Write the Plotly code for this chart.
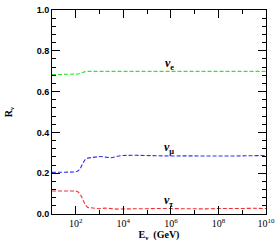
import plotly.graph_objects as go

logE = [1.0, 1.5, 2.0, 2.1, 2.2, 2.3, 2.4, 2.5, 2.75, 3.0, 3.25, 3.5, 3.75, 4.0, 4.5,
        5.0, 5.5, 6.0, 6.5, 7.0, 7.5, 8.0, 8.5, 9.0, 9.5, 10.0]
r_e = [0.683, 0.683, 0.684, 0.686, 0.690, 0.695, 0.698, 0.699, 0.699, 0.698, 0.699, 0.697, 0.698,
       0.699, 0.698, 0.699, 0.699, 0.698, 0.699, 0.699, 0.698, 0.699, 0.699, 0.699, 0.698, 0.699]
r_mu = [0.204, 0.204, 0.206, 0.212, 0.225, 0.250, 0.268, 0.274, 0.278, 0.282, 0.279, 0.276, 0.283,
        0.287, 0.288, 0.286, 0.285, 0.284, 0.285, 0.284, 0.284, 0.285, 0.284, 0.285, 0.286, 0.287]
r_tau = [0.113, 0.113, 0.113, 0.108, 0.095, 0.070, 0.045, 0.032, 0.028, 0.026, 0.029, 0.025, 0.024,
         0.025, 0.024, 0.026, 0.027, 0.026, 0.025, 0.026, 0.025, 0.027, 0.026, 0.027, 0.028, 0.027]
E = [10 ** v for v in logE]

x_tickvals = [1e2, 1e4, 1e6, 1e8, 1e10]
x_ticktext = ["10<sup>2</sup>", "10<sup>4</sup>", "10<sup>6</sup>", "10<sup>8</sup>", "10<sup>10</sup>"]

labels = ["<i>ν</i><sub>e</sub>", "<i>ν</i><sub>μ</sub>", "<i>ν</i><sub>τ</sub>"]
label_logE = [5.93, 5.93, 5.90]
label_y = [0.735, 0.325, 0.063]

fig = go.Figure()
for y, c in [(r_e, "#2ee82e"), (r_mu, "#3030f0"), (r_tau, "#f03030")]:
    fig.add_trace(go.Scatter(x=E, y=y, mode="lines",
                             line=dict(color=c, width=1.1, dash="4px,2px"),
                             showlegend=False))

for t, lx, ly in zip(labels, label_logE, label_y):
    fig.add_annotation(x=lx, y=ly, text=t, showarrow=False,
                       font=dict(family="Liberation Serif", size=12, color="black", weight="bold"))

fig.update_layout(
    width=280, height=242,
    margin=dict(l=52, r=10, t=5, b=28),
    paper_bgcolor="white", plot_bgcolor="white",
    xaxis=dict(type="log", range=[0.9999, 10.0001], tickvals=x_tickvals, ticktext=x_ticktext,
               showline=True, linecolor="black", linewidth=1, mirror="allticks",
               ticks="inside", ticklen=8, tickcolor="black", tickwidth=1,
               minor=dict(ticks="inside", ticklen=4, dtick=1, tickcolor="black"),
               showgrid=False, zeroline=False,
               tickfont=dict(family="Liberation Serif", size=10, color="black"),
               title=dict(text="E<sub>ν</sub>  (GeV)", standoff=1,
                          font=dict(family="Liberation Serif", size=10, color="black", weight="bold"))),
    yaxis=dict(range=[0, 1], dtick=0.2, tickformat=".1f",
               showline=True, linecolor="black", linewidth=1, mirror="allticks",
               ticks="inside", ticklen=8, tickcolor="black", tickwidth=1,
               minor=dict(ticks="inside", ticklen=4, dtick=0.04, tickcolor="black"),
               showgrid=False, zeroline=False,
               tickfont=dict(family="Liberation Sans", size=9, color="black", weight="bold"),
               title=dict(text="R<sub>ν</sub>", standoff=22,
                          font=dict(family="Liberation Serif", size=10, color="black", weight="bold"))),
)

fig.write_html("out.html", config={"displayModeBar": False},
               post_script="document.body.style.margin='0';")
